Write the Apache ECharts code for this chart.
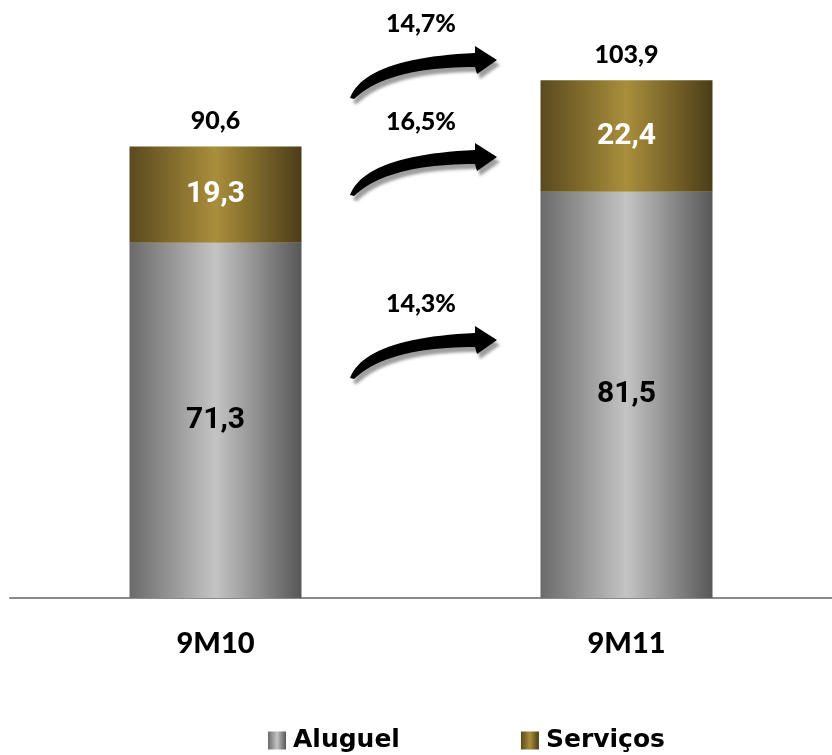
<!DOCTYPE html>
<html>
<head>
<meta charset="utf-8">
<style>
  html, body { margin: 0; padding: 0; background: #ffffff; }
  #chart { width: 832px; height: 755px; }
</style>
<script src="https://cdn.jsdelivr.net/npm/echarts@6/dist/echarts.min.js"></script>
</head>
<body>
<div id="chart"></div>
<script>
// Receita por período (R$ milhões)
const categories = ['9M10', '9M11'];
const aluguel = [71.3, 81.5];
const servicos = [19.3, 22.4];
const totais = [90.6, 103.9];
// Crescimento 9M11 vs 9M10: total, serviços, aluguel
const growthLabels = ['14,7%', '16,5%', '14,3%'];

const fmt = v => v.toFixed(1).replace('.', ',');

const grayGrad = new echarts.graphic.LinearGradient(0, 0, 1, 0, [
  { offset: 0, color: '#6a6a6a' },
  { offset: 0.5, color: '#c4c4c4' },
  { offset: 1, color: '#575757' }
]);
const goldGrad = new echarts.graphic.LinearGradient(0, 0, 1, 0, [
  { offset: 0, color: '#5a4a1f' },
  { offset: 0.5, color: '#a98e3b' },
  { offset: 1, color: '#4b3d18' }
]);

const valueLabel = (color, size, family) => ({
  show: true,
  position: 'inside',
  color: color,
  fontFamily: family,
  fontWeight: 'bold',
  fontSize: size,
  formatter: p => fmt(p.value)
});

const chart = echarts.init(document.getElementById('chart'), null, { renderer: 'canvas' });

chart.setOption({
  animation: false,
  backgroundColor: '#ffffff',
  grid: { left: 10, right: 0, top: 0, bottom: 157, containLabel: false },
  xAxis: {
    type: 'category',
    data: categories,
    axisLine: { lineStyle: { color: '#8a8a8a', width: 2 } },
    axisTick: { length: 10, lineStyle: { color: '#8a8a8a', width: 2 } },
    axisLabel: {
      margin: 31,
      color: '#000',
      fontFamily: 'Lato',
      fontWeight: 900,
      fontSize: 29
    }
  },
  yAxis: { type: 'value', min: 0, max: 120, show: false, splitLine: { show: false } },
  legend: {
    left: 263,
    top: 723,
    itemWidth: 18,
    itemHeight: 18,
    itemGap: 121,
    icon: 'rect',
    data: ['Aluguel', 'Serviços'],
    textStyle: {
      color: '#000',
      fontFamily: 'DejaVu Sans',
      fontWeight: 'bold',
      fontSize: 25,
      padding: [0, 0, 0, 2]
    }
  },
  series: [
    {
      name: 'Aluguel',
      type: 'bar',
      stack: 'receita',
      barWidth: 172,
      data: aluguel,
      itemStyle: { color: grayGrad },
      label: valueLabel('#000', 30, 'Roboto')
    },
    {
      name: 'Serviços',
      type: 'bar',
      stack: 'receita',
      barWidth: 172,
      data: servicos,
      itemStyle: { color: goldGrad },
      label: valueLabel('#fff', 30, 'Roboto')
    },
    {
      // zero-height segment on top of the stack carrying the total
      name: 'Total',
      type: 'bar',
      stack: 'receita',
      barWidth: 172,
      data: totais.map(() => 0),
      silent: true,
      itemStyle: { color: 'transparent' },
      label: {
        show: true,
        position: 'top',
        distance: 13,
        color: '#000',
        fontFamily: 'Lato',
        fontWeight: 900,
        fontSize: 25,
        formatter: p => fmt(totais[p.dataIndex])
      }
    }
  ]
});

// Curved growth arrows between the two columns
function quad(p0, c, p1, n) {
  const pts = [];
  for (let i = 0; i <= n; i++) {
    const t = i / n, u = 1 - t;
    pts.push([
      u * u * p0[0] + 2 * u * t * c[0] + t * t * p1[0],
      u * u * p0[1] + 2 * u * t * c[1] + t * t * p1[1]
    ]);
  }
  return pts;
}
// Arrow outline relative to the tail tip
function arrowPoints() {
  const upper = quad([0, 0], [15, -40], [125, -45], 24);
  const head = [[125, -52], [147, -38], [127, -24], [125, -31]];
  const lower = quad([125, -31], [37, -31], [4, 1], 24).slice(1);
  return upper.concat(head, lower);
}

const x0 = chart.convertToPixel({ xAxisIndex: 0 }, categories[0]);
const x1 = chart.convertToPixel({ xAxisIndex: 0 }, categories[1]);
const midX = (x0 + x1) / 2;
const arrowRows = [98, 195, 378];   // tail tip heights of the three arrows
const labelRows = [24, 122, 304];

const graphics = [];
arrowRows.forEach((y, i) => {
  graphics.push({
    type: 'polygon',
    x: midX - 71,
    y: y,
    shape: { points: arrowPoints() },
    style: {
      fill: '#000',
      shadowColor: 'rgba(0,0,0,0.38)',
      shadowBlur: 3,
      shadowOffsetX: 3,
      shadowOffsetY: 5
    },
    z: 10
  });
  graphics.push({
    type: 'text',
    x: midX,
    y: labelRows[i],
    style: {
      text: growthLabels[i],
      fill: '#000',
      fontFamily: 'Lato',
      fontWeight: 900,
      fontSize: 25,
      textAlign: 'center',
      textVerticalAlign: 'middle'
    },
    z: 10
  });
});
chart.setOption({ graphic: graphics });
</script>
</body>
</html>
